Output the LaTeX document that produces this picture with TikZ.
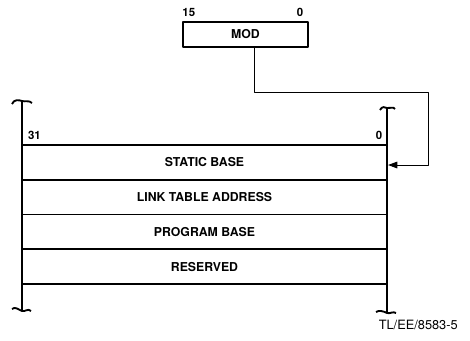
\documentclass[tikz,border=0pt]{standalone}
\usepackage{fontspec}
\setmainfont{TeX Gyre Heros}
\usepackage{tikz}
\usetikzlibrary{positioning, arrows.meta, calc}

\tikzset{
  fieldlbl/.style={font=\bfseries\fontsize{9.2}{10}\selectfont, inner sep=0pt},
  bitlbl/.style={font=\bfseries\fontsize{8.6}{9}\selectfont, inner sep=0pt},
  regbox/.style={draw, line width=1.3pt, minimum width=93.75pt, minimum height=18.75pt, inner sep=0pt},
  rowbox/.style={draw, line width=1.4pt, minimum width=273.75pt, minimum height=26.06pt, inner sep=0pt},
  rail/.style={line width=1.4pt},
  wire/.style={line width=0.7pt},
}

\begin{document}
\begin{tikzpicture}[x=0.75pt, y=-0.75pt, line join=round]
        \useasboundingbox (0,0) rectangle (470,340);
        % ── MOD register (16 bits)
        \node[regbox, fieldlbl] (mod) at (245.5,34.5) {MOD};
        \node[bitlbl, anchor=south west] (modhi) at ([yshift=3pt]mod.north west) {15};
        \node[bitlbl, anchor=south east] (modlo) at ([xshift=-4pt, yshift=3pt]mod.north east) {0};
        % ── module table rows (32 bits)
        \foreach \lbl [count=\k] in {STATIC BASE, LINK TABLE ADDRESS, PROGRAM BASE, RESERVED} {
          \node[rowbox, fieldlbl] (row\k) at (204.5, 145+\k*34.75-17.375) {\lbl};
        }
        \node[bitlbl, anchor=south west] (hibit) at ([xshift=5pt, yshift=3pt]row1.north west) {31};
        \node[bitlbl, anchor=south east] (lobit) at ([xshift=-4pt, yshift=3pt]row1.north east) {0};
        % ── side rails with broken-off ends
        \draw[rail] (22,101) -- (22,310);
        \draw[rail] (387,108) -- (387,312);
        \draw[rail] (12,104) .. controls (14,99) and (19,100) .. (22,101) .. controls (25,102) and (29,100) .. (32,103);
        \draw[rail] (12,309) .. controls (15,306) and (19,310) .. (22,311) .. controls (25,312) and (28,308) .. (31,311);
        \draw[rail] (380,110) .. controls (382,106) and (385,107) .. (387,108) .. controls (390,109) and (393,106) .. (395,109);
        \draw[rail] (376,312) .. controls (379,310) and (383,311) .. (387,313) .. controls (390,314) and (393,311) .. (396,313);
        % ── MOD points to the static base entry
        \coordinate (tap) at (254,47);
        \coordinate (hit) at (388,165);
        \draw[wire, -{Triangle[length=7pt, width=5pt]}] (tap) -- (254,92) -- (428,92) -- (428,165) -- (hit);
        \node[font=\fontsize{9.6}{10}\selectfont, anchor=east, inner sep=0pt] (figref) at (458,325) {TL/EE/8583-5};
\end{tikzpicture}
\end{document}
